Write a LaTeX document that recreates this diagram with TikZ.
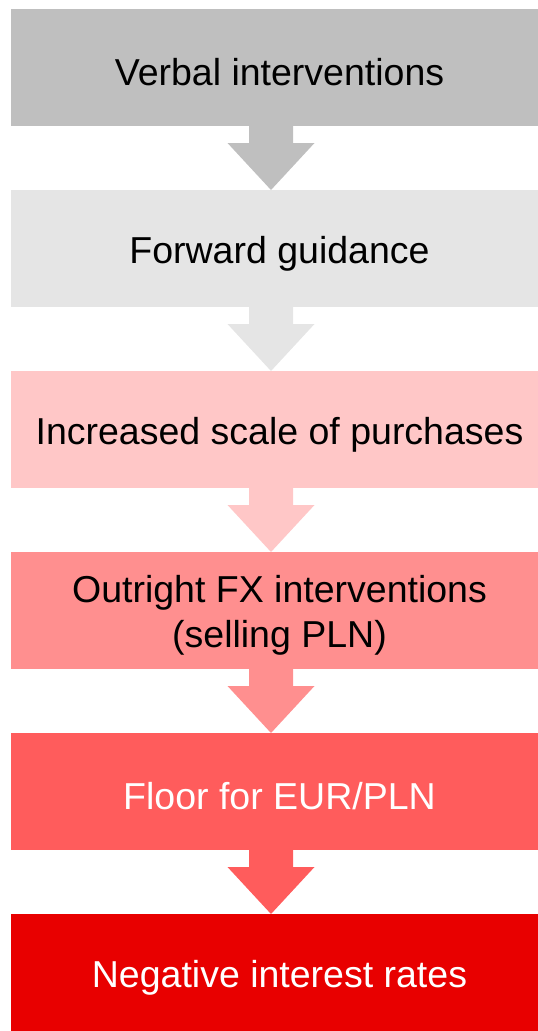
\documentclass[tikz,border=0pt]{standalone}
\usepackage{fontspec}
\setmainfont{Liberation Sans}
\usetikzlibrary{positioning,calc}

\definecolor{verbalgray}{HTML}{BFBFBF}
\definecolor{guidancegray}{HTML}{E5E5E5}
\definecolor{purchasered}{HTML}{FFC7C7}
\definecolor{fxred}{HTML}{FF8F8F}
\definecolor{floorred}{HTML}{FF5C5C}
\definecolor{negativered}{HTML}{E80000}

% block arrow from one stage down to the next: {from}{to}{colour}
\newcommand{\flowarrow}[3]{%
  \fill[#3] ($(#1.south)+(-25.5,0)$) -- ++(0,-17) -- ++(-21.5,0)
    -- ($(#2.north)+(-3.5,0)$) -- ++(43.5,47) -- ++(-21.5,0) -- ++(0,17) -- cycle;}

\begin{document}
\begin{tikzpicture}[x=1pt, y=1pt,
    stage/.style={rectangle, minimum width=527pt, minimum height=117pt,
        inner sep=0pt, outer sep=0pt},
    caption/.style={align=center, xshift=5pt, yshift=-5pt,
        font=\fontsize{37.5}{45}\selectfont}]
    \useasboundingbox (0,0) rectangle (538,-1031);

    % Stages
    \node[stage, fill=verbalgray, label={[caption]center:Verbal interventions}]
        (verbal) at (274.5,-67.5) {};
    \node[stage, fill=guidancegray, label={[caption]center:Forward guidance},
        below=64pt of verbal] (guidance) {};
    \node[stage, fill=purchasered, label={[caption]center:Increased scale of purchases},
        below=64pt of guidance] (purchases) {};
    \node[stage, fill=fxred, label={[caption]center:Outright FX interventions\\(selling PLN)},
        below=64pt of purchases] (fx) {};
    \node[stage, fill=floorred, label={[caption, text=white]center:Floor for EUR/PLN},
        below=64pt of fx] (floor) {};
    \node[stage, fill=negativered, label={[caption, text=white]center:Negative interest rates},
        below=64pt of floor] (negative) {};

    % Arrows
    \flowarrow{verbal}{guidance}{verbalgray}
    \flowarrow{guidance}{purchases}{guidancegray}
    \flowarrow{purchases}{fx}{purchasered}
    \flowarrow{fx}{floor}{fxred}
    \flowarrow{floor}{negative}{floorred}
\end{tikzpicture}
\end{document}
